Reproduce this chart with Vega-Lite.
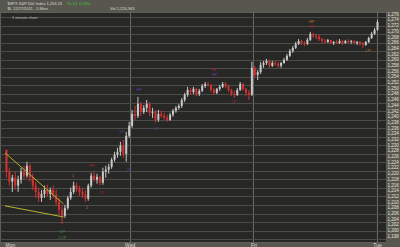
{
  "$schema": "https://vega.github.io/schema/vega-lite/v6.json",
  "width": 386,
  "height": 230,
  "autosize": {"type": "none"},
  "padding": {"left": 0, "top": 12, "right": 14, "bottom": 5},
  "background": "#58574f",
  "config": {
    "view": {"fill": "#272725", "stroke": "#5e5e5a", "strokeWidth": 1},
    "axis": {"labelFont": "Liberation Sans", "titleFont": "Liberation Sans"}
  },
  "datasets": {
    "bars": [
      {"t":0,"o":1228.4,"h":1228.4,"l":1218.6,"c":1220.7},
      {"t":1,"o":1220.7,"h":1222.1,"l":1215.8,"c":1217.2},
      {"t":2,"o":1217.2,"h":1219.6,"l":1213.6,"c":1218.6},
      {"t":3,"o":1218.6,"h":1220.7,"l":1214.3,"c":1215.8},
      {"t":4,"o":1215.8,"h":1219.3,"l":1213.6,"c":1217.9},
      {"t":5,"o":1217.9,"h":1222.1,"l":1216.5,"c":1220.7},
      {"t":6,"o":1220.7,"h":1222.8,"l":1217.9,"c":1219.3},
      {"t":7,"o":1219.3,"h":1224.2,"l":1218.6,"c":1222.8},
      {"t":8,"o":1222.8,"h":1223.5,"l":1217.2,"c":1218.6},
      {"t":9,"o":1218.6,"h":1220.0,"l":1214.3,"c":1215.8},
      {"t":10,"o":1215.8,"h":1217.2,"l":1211.5,"c":1213.6},
      {"t":11,"o":1213.6,"h":1215.1,"l":1210.1,"c":1211.5},
      {"t":12,"o":1211.5,"h":1214.3,"l":1210.1,"c":1212.9},
      {"t":13,"o":1212.9,"h":1215.8,"l":1211.5,"c":1214.3},
      {"t":14,"o":1214.3,"h":1216.1,"l":1211.9,"c":1212.9},
      {"t":15,"o":1212.9,"h":1215.1,"l":1210.8,"c":1214.3},
      {"t":16,"o":1214.3,"h":1215.8,"l":1211.5,"c":1212.6},
      {"t":17,"o":1212.6,"h":1214.3,"l":1208.7,"c":1210.1},
      {"t":18,"o":1210.1,"h":1211.5,"l":1205.9,"c":1207.3},
      {"t":19,"o":1207.3,"h":1208.7,"l":1202.4,"c":1205.2},
      {"t":20,"o":1205.2,"h":1209.1,"l":1204.5,"c":1208.0},
      {"t":21,"o":1208.0,"h":1212.2,"l":1207.3,"c":1211.5},
      {"t":22,"o":1211.5,"h":1215.1,"l":1210.8,"c":1213.6},
      {"t":23,"o":1213.6,"h":1217.2,"l":1212.9,"c":1215.8},
      {"t":24,"o":1215.8,"h":1216.8,"l":1213.6,"c":1214.7},
      {"t":25,"o":1214.7,"h":1215.8,"l":1212.2,"c":1213.6},
      {"t":26,"o":1213.6,"h":1215.1,"l":1211.5,"c":1212.6},
      {"t":27,"o":1212.6,"h":1214.3,"l":1210.1,"c":1211.2},
      {"t":28,"o":1211.2,"h":1216.5,"l":1210.5,"c":1215.8},
      {"t":29,"o":1215.8,"h":1220.3,"l":1215.1,"c":1219.3},
      {"t":30,"o":1219.3,"h":1220.7,"l":1217.2,"c":1217.9},
      {"t":31,"o":1217.9,"h":1220.0,"l":1216.5,"c":1218.9},
      {"t":32,"o":1218.9,"h":1219.3,"l":1215.8,"c":1216.8},
      {"t":33,"o":1216.8,"h":1222.1,"l":1216.1,"c":1220.7},
      {"t":34,"o":1220.7,"h":1222.8,"l":1218.6,"c":1221.4},
      {"t":35,"o":1221.4,"h":1223.5,"l":1220.0,"c":1222.4},
      {"t":36,"o":1222.4,"h":1225.6,"l":1221.7,"c":1224.9},
      {"t":37,"o":1224.9,"h":1227.7,"l":1224.2,"c":1226.6},
      {"t":38,"o":1226.6,"h":1229.1,"l":1225.6,"c":1227.7},
      {"t":39,"o":1227.7,"h":1231.2,"l":1226.3,"c":1229.8},
      {"t":40,"o":1229.8,"h":1231.9,"l":1225.6,"c":1227.0},
      {"t":41,"o":1227.0,"h":1234.7,"l":1224.2,"c":1233.3},
      {"t":42,"o":1233.3,"h":1238.2,"l":1232.6,"c":1236.8},
      {"t":43,"o":1236.8,"h":1242.4,"l":1236.1,"c":1241.0},
      {"t":44,"o":1241.0,"h":1243.8,"l":1238.9,"c":1240.3},
      {"t":45,"o":1240.3,"h":1247.0,"l":1239.6,"c":1244.5},
      {"t":46,"o":1244.5,"h":1245.2,"l":1240.3,"c":1241.7},
      {"t":47,"o":1241.7,"h":1244.1,"l":1241.0,"c":1243.1},
      {"t":48,"o":1243.1,"h":1245.9,"l":1241.7,"c":1244.5},
      {"t":49,"o":1244.5,"h":1245.2,"l":1240.3,"c":1241.4},
      {"t":50,"o":1241.4,"h":1243.1,"l":1239.6,"c":1241.7},
      {"t":51,"o":1241.7,"h":1242.4,"l":1237.9,"c":1238.9},
      {"t":52,"o":1238.9,"h":1242.4,"l":1238.2,"c":1241.0},
      {"t":53,"o":1241.0,"h":1242.1,"l":1239.6,"c":1240.3},
      {"t":54,"o":1240.3,"h":1241.4,"l":1238.9,"c":1239.6},
      {"t":55,"o":1239.6,"h":1240.7,"l":1238.2,"c":1238.9},
      {"t":56,"o":1238.9,"h":1241.4,"l":1238.6,"c":1240.7},
      {"t":57,"o":1240.7,"h":1242.8,"l":1240.0,"c":1242.1},
      {"t":58,"o":1242.1,"h":1243.8,"l":1241.4,"c":1243.1},
      {"t":59,"o":1243.1,"h":1244.5,"l":1242.4,"c":1243.8},
      {"t":60,"o":1243.8,"h":1246.6,"l":1243.1,"c":1245.9},
      {"t":61,"o":1245.9,"h":1248.4,"l":1245.2,"c":1247.7},
      {"t":62,"o":1247.7,"h":1250.5,"l":1247.0,"c":1249.4},
      {"t":63,"o":1249.4,"h":1250.1,"l":1247.7,"c":1248.7},
      {"t":64,"o":1248.7,"h":1250.5,"l":1248.0,"c":1249.8},
      {"t":65,"o":1249.8,"h":1250.1,"l":1247.3,"c":1248.0},
      {"t":66,"o":1248.0,"h":1249.8,"l":1247.3,"c":1249.1},
      {"t":67,"o":1249.1,"h":1251.5,"l":1248.7,"c":1250.8},
      {"t":68,"o":1250.8,"h":1252.2,"l":1250.1,"c":1251.5},
      {"t":69,"o":1251.5,"h":1252.2,"l":1250.5,"c":1251.2},
      {"t":70,"o":1251.2,"h":1251.5,"l":1248.7,"c":1249.4},
      {"t":71,"o":1249.4,"h":1250.1,"l":1247.7,"c":1248.4},
      {"t":72,"o":1248.4,"h":1250.1,"l":1248.0,"c":1249.8},
      {"t":73,"o":1249.8,"h":1251.2,"l":1249.1,"c":1250.5},
      {"t":74,"o":1250.5,"h":1252.2,"l":1250.1,"c":1251.5},
      {"t":75,"o":1251.5,"h":1252.2,"l":1250.1,"c":1250.8},
      {"t":76,"o":1250.8,"h":1251.2,"l":1248.7,"c":1249.4},
      {"t":77,"o":1249.4,"h":1249.8,"l":1247.3,"c":1248.0},
      {"t":78,"o":1248.0,"h":1249.1,"l":1246.6,"c":1247.7},
      {"t":79,"o":1247.7,"h":1250.1,"l":1247.3,"c":1249.4},
      {"t":80,"o":1249.4,"h":1252.2,"l":1249.1,"c":1251.5},
      {"t":81,"o":1251.5,"h":1251.9,"l":1249.1,"c":1249.8},
      {"t":82,"o":1249.8,"h":1250.1,"l":1247.3,"c":1248.4},
      {"t":83,"o":1248.4,"h":1249.4,"l":1245.9,"c":1247.7},
      {"t":84,"o":1247.7,"h":1259.3,"l":1247.3,"c":1257.2},
      {"t":85,"o":1257.2,"h":1257.9,"l":1253.6,"c":1254.7},
      {"t":86,"o":1254.7,"h":1256.4,"l":1252.9,"c":1255.7},
      {"t":87,"o":1255.7,"h":1259.3,"l":1255.0,"c":1258.2},
      {"t":88,"o":1258.2,"h":1259.6,"l":1257.2,"c":1258.9},
      {"t":89,"o":1258.9,"h":1260.3,"l":1258.2,"c":1259.6},
      {"t":90,"o":1259.6,"h":1260.0,"l":1257.2,"c":1257.9},
      {"t":91,"o":1257.9,"h":1259.6,"l":1257.5,"c":1258.9},
      {"t":92,"o":1258.9,"h":1259.6,"l":1257.9,"c":1258.6},
      {"t":93,"o":1258.6,"h":1259.3,"l":1257.2,"c":1257.9},
      {"t":94,"o":1257.9,"h":1259.3,"l":1257.2,"c":1258.9},
      {"t":95,"o":1258.9,"h":1260.7,"l":1258.6,"c":1260.0},
      {"t":96,"o":1260.0,"h":1262.1,"l":1259.6,"c":1261.4},
      {"t":97,"o":1261.4,"h":1263.8,"l":1261.0,"c":1263.1},
      {"t":98,"o":1263.1,"h":1264.9,"l":1262.4,"c":1264.2},
      {"t":99,"o":1264.2,"h":1266.3,"l":1263.8,"c":1265.6},
      {"t":100,"o":1265.6,"h":1267.3,"l":1265.2,"c":1266.6},
      {"t":101,"o":1266.6,"h":1267.0,"l":1265.2,"c":1265.9},
      {"t":102,"o":1265.9,"h":1266.6,"l":1264.9,"c":1265.6},
      {"t":103,"o":1265.6,"h":1267.7,"l":1265.2,"c":1267.0},
      {"t":104,"o":1267.0,"h":1269.8,"l":1266.6,"c":1269.1},
      {"t":105,"o":1269.1,"h":1269.4,"l":1267.7,"c":1268.4},
      {"t":106,"o":1268.4,"h":1269.1,"l":1267.3,"c":1268.1},
      {"t":107,"o":1268.1,"h":1268.8,"l":1266.6,"c":1267.3},
      {"t":108,"o":1267.3,"h":1267.7,"l":1265.9,"c":1266.6},
      {"t":109,"o":1266.6,"h":1267.3,"l":1265.6,"c":1266.3},
      {"t":110,"o":1266.3,"h":1267.3,"l":1265.9,"c":1267.0},
      {"t":111,"o":1267.0,"h":1267.0,"l":1265.6,"c":1265.9},
      {"t":112,"o":1265.9,"h":1266.6,"l":1265.2,"c":1266.3},
      {"t":113,"o":1266.3,"h":1267.0,"l":1265.6,"c":1265.9},
      {"t":114,"o":1265.9,"h":1267.3,"l":1265.6,"c":1266.6},
      {"t":115,"o":1266.6,"h":1267.0,"l":1265.2,"c":1265.9},
      {"t":116,"o":1265.9,"h":1267.0,"l":1265.6,"c":1266.6},
      {"t":117,"o":1266.6,"h":1267.3,"l":1265.9,"c":1266.3},
      {"t":118,"o":1266.3,"h":1267.0,"l":1265.6,"c":1266.6},
      {"t":119,"o":1266.6,"h":1267.0,"l":1265.6,"c":1265.9},
      {"t":120,"o":1265.9,"h":1266.6,"l":1265.2,"c":1266.3},
      {"t":121,"o":1266.3,"h":1266.6,"l":1264.9,"c":1265.6},
      {"t":122,"o":1265.6,"h":1266.3,"l":1264.2,"c":1265.2},
      {"t":123,"o":1265.2,"h":1266.6,"l":1264.9,"c":1266.3},
      {"t":124,"o":1266.3,"h":1268.1,"l":1265.9,"c":1267.7},
      {"t":125,"o":1267.7,"h":1269.8,"l":1267.3,"c":1269.1},
      {"t":126,"o":1269.1,"h":1271.2,"l":1268.8,"c":1270.5},
      {"t":127,"o":1270.5,"h":1274.0,"l":1270.2,"c":1273.3}
    ],
    "trend": [
      {"line":"upper","t":-0.5,"p":1227.3},
      {"line":"upper","t":19.5,"p":1209.4},
      {"line":"lower","t":-0.5,"p":1208.7},
      {"line":"lower","t":19.5,"p":1204.8}
    ],
    "notes": [
      {"t":104.5,"p":1273.3,"kind":"orange","txt":"HP"},
      {"t":104.5,"p":1271.5,"kind":"red","txt":"HP"},
      {"t":123.8,"p":1263.1,"kind":"orange","txt":"LP"},
      {"t":71.2,"p":1256.4,"kind":"red","txt":"HP"},
      {"t":71.2,"p":1254.7,"kind":"purple","txt":"HP"},
      {"t":45.5,"p":1249.4,"kind":"purple","txt":"HP"},
      {"t":77.8,"p":1245.2,"kind":"red","txt":"LP"},
      {"t":51.2,"p":1235.8,"kind":"purple","txt":"LP"},
      {"t":39.5,"p":1234.7,"kind":"purple","txt":"LP"},
      {"t":29.2,"p":1222.8,"kind":"red","txt":"HP"},
      {"t":22.8,"p":1219.3,"kind":"orange","txt":"1"},
      {"t":32.8,"p":1213.3,"kind":"red","txt":"LP"},
      {"t":27.5,"p":1208.0,"kind":"orange","txt":"2"},
      {"t":41.8,"p":1221.4,"kind":"purple","txt":"LP"},
      {"t":19.2,"p":1199.6,"kind":"green","txt":"LP"},
      {"t":19.2,"p":1197.5,"kind":"green","txt":"LCP"}
    ],
    "caption": [
      {"t":6.2,"p":1274.7,"txt":"1 minute chart"}
    ]
  },
  "layer": [
    {
      "data": {"name": "bars"},
      "mark": {"type": "rule", "strokeWidth": 1},
      "encoding": {
        "x": {
          "field": "t", "type": "quantitative",
          "scale": {"domain": [-0.5, 128.2], "nice": false, "zero": false},
          "axis": {
            "orient": "bottom", "title": null, "values": [1.2, 42.17, 84.5, 126.83],
            "labelExpr": "datum.value < 10 ? 'Mon' : datum.value < 60 ? 'Wed' : datum.value < 100 ? 'Fri' : 'Tue'",
            "labelFontSize": 5, "labelColor": "#dedede", "labelPadding": 0, "labelBaseline": "top",
            "ticks": false, "domain": false, "labelOverlap": false,
            "grid": true, "gridColor": "#6a6a66", "gridWidth": 1,
            "gridOpacity": {"condition": {"test": "datum.value < 10", "value": 0}, "value": 1}
          }
        },
        "y": {
          "field": "l", "type": "quantitative",
          "scale": {"domain": [1196, 1276.8], "nice": false, "zero": false},
          "axis": {
            "orient": "right", "title": null,
            "values": [1198,1200,1202,1204,1206,1208,1210,1212,1214,1216,1218,1220,1222,1224,1226,1228,1230,1232,1234,1236,1238,1240,1242,1244,1246,1248,1250,1252,1254,1256,1258,1260,1262,1264,1266,1268,1270,1272,1274,1276],
            "format": ",.0f", "labelFontSize": 4.5, "labelColor": "#e2e2dc", "labelPadding": 1,
            "ticks": false, "domain": false, "grid": false, "labelOverlap": false
          }
        },
        "y2": {"field": "h"},
        "color": {"condition": {"test": "datum.c < datum.o", "value": "#d23232"}, "value": "#c9c9c9"}
      }
    },
    {
      "data": {"name": "bars"},
      "mark": {"type": "bar", "size": 2},
      "encoding": {
        "x": {"field": "t", "type": "quantitative", "scale": {"domain": [-0.5, 128.2], "nice": false, "zero": false}, "axis": null},
        "y": {
          "field": "o", "type": "quantitative",
          "scale": {"domain": [1196, 1276.8], "nice": false, "zero": false},
          "axis": {
            "orient": "left", "title": null,
            "values": [1197,1200,1203,1206,1209,1212,1215,1218,1221,1224,1227,1230,1233,1236,1239,1242,1245,1248,1251,1254,1257,1260,1263,1266,1269,1272,1275],
            "labels": false, "ticks": false, "domain": false,
            "grid": true, "gridColor": "#4c4c49", "gridWidth": 1
          }
        },
        "y2": {"field": "c"},
        "color": {"condition": {"test": "datum.c < datum.o", "value": "#d23232"}, "value": "#c9c9c9"}
      }
    },
    {
      "data": {"name": "trend"},
      "mark": {"type": "line", "strokeWidth": 1, "color": "#b8b22a"},
      "encoding": {
        "x": {"field": "t", "type": "quantitative", "scale": {"domain": [-0.5, 128.2], "nice": false, "zero": false}, "axis": null},
        "y": {"field": "p", "type": "quantitative", "scale": {"domain": [1196, 1276.8], "nice": false, "zero": false}, "axis": null},
        "detail": {"field": "line"}
      }
    },
    {
      "data": {"name": "notes"},
      "mark": {"type": "text", "fontSize": 4, "font": "Liberation Sans"},
      "encoding": {
        "x": {
          "field": "t", "type": "quantitative", "scale": {"domain": [-0.5, 128.2], "nice": false, "zero": false},
          "axis": {
            "orient": "top", "title": null, "values": [0.17, 0.2, 20.5, 35.3],
            "labelExpr": "datum.value < 0.18 ? '$SPX S&P 500 Index\u00a01,263.23' : datum.value < 1 ? '$L 12/27/2011 - 5 Mins' : datum.value < 30 ? '15.13\u00a0\u00a00.90%' : 'Vol 1,226,963'",
            "labelFontSize": 4, "labelAlign": "left", "labelBaseline": "bottom",
            "labelColor": {"condition": {"test": "datum.value > 10 && datum.value < 30", "value": "#33cc33"}, "value": "#d8d8d8"},
            "labelPadding": {"condition": {"test": "datum.value < 0.18 || (datum.value > 10 && datum.value < 30)", "value": 6.5}, "value": 1.5},
            "ticks": false, "tickSize": 0, "domain": false, "grid": false, "labelOverlap": false
          }
        },
        "y": {"field": "p", "type": "quantitative", "scale": {"domain": [1196, 1276.8], "nice": false, "zero": false}, "axis": null},
        "text": {"field": "txt"},
        "color": {
          "field": "kind", "type": "nominal",
          "scale": {"domain": ["orange", "red", "purple", "green"], "range": ["#c0701c", "#a8282a", "#6b3aa0", "#3f9a3f"]},
          "legend": null
        }
      }
    },
    {
      "data": {"name": "caption"},
      "mark": {"type": "text", "fontSize": 4, "font": "Liberation Sans", "color": "#bdbdbd"},
      "encoding": {
        "x": {"field": "t", "type": "quantitative", "scale": {"domain": [-0.5, 128.2], "nice": false, "zero": false}, "axis": null},
        "y": {"field": "p", "type": "quantitative", "scale": {"domain": [1196, 1276.8], "nice": false, "zero": false}, "axis": null},
        "text": {"field": "txt"}
      }
    }
  ],
  "resolve": {"axis": {"x": "independent", "y": "independent"}}
}
